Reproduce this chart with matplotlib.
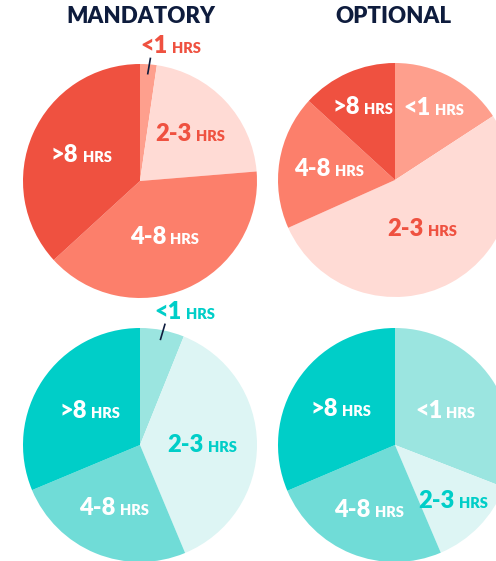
import numpy as np
import matplotlib
matplotlib.use("Agg")
from matplotlib import pyplot as plt
from matplotlib.offsetbox import TextArea, HPacker, AnnotationBbox

# data (percent of respondents)
categories = ["<1", "2-3", "4-8", ">8"]
mandatory_red = [2.3, 21.4, 39.5, 36.8]
optional_red = [15.8, 52.5, 18.5, 13.2]
mandatory_teal = [6.1, 37.6, 25.0, 31.3]
optional_teal = [30.9, 12.7, 25.0, 31.4]
titles = ["MANDATORY", "OPTIONAL"]
unit = "HRS"

# colours
reds = ["#FE9F8D", "#FFDBD5", "#FC7F6B", "#EF5140"]
teals = ["#9BE5E0", "#DDF5F4", "#70DCD7", "#00CEC8"]
navy = "#0E1C3D"

W, H = 496, 561
R = 117
FONT = "Lato"

fig = plt.figure(figsize=(W / 100, H / 100), dpi=100)
ax = fig.add_axes([0, 0, 1, 1])


def label(xy, big, color, align=(0.5, 0.5)):
  t1 = TextArea(big, textprops=dict(fontsize=17, fontweight="heavy", color=color, family=FONT))
  t2 = TextArea(unit, textprops=dict(fontsize=10.5, fontweight="heavy", color=color, family=FONT))
  box = HPacker(children=[t1, t2], align="baseline", pad=0, sep=3)
  ab = AnnotationBbox(box, xy, frameon=False, box_alignment=align, pad=0)
  ax.add_artist(ab)


def draw_pie(values, center, colors, dists, outside_first=False):
  cx, cy = center
  wedges, _ = ax.pie(values, colors=colors, startangle=90, counterclock=False,
                     center=(cx, H - cy), radius=R,
                     wedgeprops=dict(linewidth=0))
  for i, w in enumerate(wedges):
    mid = np.deg2rad((w.theta1 + w.theta2) / 2)
    if i == 0 and outside_first:
      # leader line out of the tiny wedge, label sits above it
      p0 = (cx + 0.92 * R * np.cos(mid), H - cy + 0.92 * R * np.sin(mid))
      p1 = (cx + 1.05 * R * np.cos(mid) + 1.5, H - cy + 1.05 * R * np.sin(mid))
      ax.plot([p0[0], p1[0]], [p0[1], p1[1]], color=navy, lw=1.2)
      label((p1[0], p1[1] + 1), categories[i], colors[3], align=(0.17, 0.0))
      continue
    d = dists[i] * R
    xy = (cx + d * np.cos(mid), H - cy + d * np.sin(mid))
    c = colors[3] if categories[i] == "2-3" else "white"
    label(xy, categories[i], c)


draw_pie(mandatory_red, (140, 181), reds, [0, 0.59, 0.52, 0.55], outside_first=True)
draw_pie(optional_red, (395, 180), reds, [0.70, 0.48, 0.57, 0.68])
draw_pie(mandatory_teal, (140, 445), teals, [0, 0.53, 0.58, 0.52], outside_first=True)
draw_pie(optional_teal, (395, 445), teals, [0.52, 0.69, 0.60, 0.56])

ax.text(141, H - 16, titles[0], ha="center", va="center", fontsize=16,
        fontweight="heavy", color=navy, family=FONT)
ax.text(393, H - 16, titles[1], ha="center", va="center", fontsize=16,
        fontweight="heavy", color=navy, family=FONT)

ax.set_xlim(0, W)
ax.set_ylim(0, H)
ax.set_aspect("equal")
ax.axis("off")

plt.savefig("out.png", dpi=100)
